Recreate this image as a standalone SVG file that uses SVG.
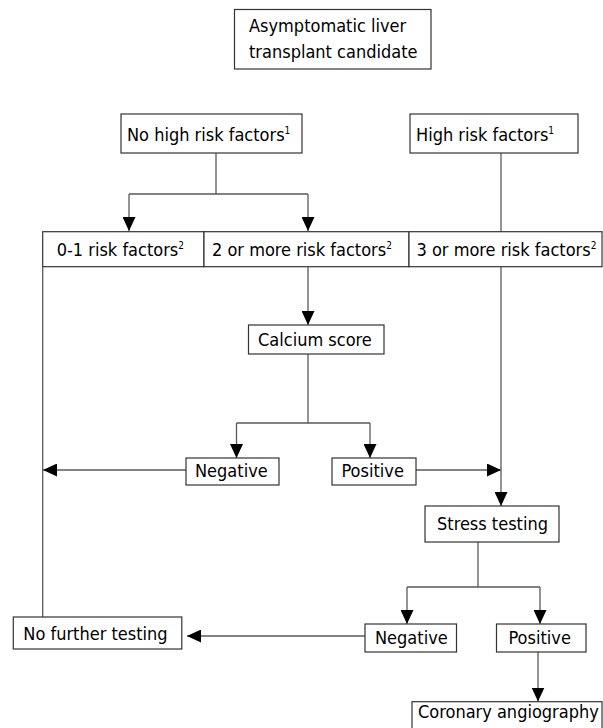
<svg xmlns="http://www.w3.org/2000/svg" width="603" height="728" viewBox="0 0 603 728">
<style>
  .box { fill: #ffffff; stroke: #333333; stroke-width: 1.2; }
  .t { font-family: "DejaVu Sans Condensed", "DejaVu Sans", sans-serif; font-stretch: condensed; font-size: 18px; fill: #000000; }
  .sup { font-size: 10px; }
  .c { fill: none; stroke: #5a5a5a; stroke-width: 1.3; }
  .a { fill: none; stroke: #5a5a5a; stroke-width: 1.3; marker-end: url(#arr); }
</style>
<defs>
  <marker id="arr" markerUnits="userSpaceOnUse" markerWidth="14" markerHeight="13" refX="14" refY="6.5" orient="auto">
    <path d="M0,0 L14,6.5 L0,13 Z" fill="#000000"/>
  </marker>
</defs>
<rect width="603" height="728" fill="#ffffff"/>

<g id="connectors">
  <path class="c" d="M216,153 V194 M129,194 H308"/>
  <path class="a" d="M129,194 V231"/>
  <path class="a" d="M308,194 V231"/>
  <path class="c" d="M501,153 V231.5"/>
  <path class="a" d="M308,267 V325"/>
  <path class="c" d="M308,354 V423 M236.5,423 H370"/>
  <path class="a" d="M236.5,423 V458"/>
  <path class="a" d="M370,423 V458"/>
  <path class="a" d="M186,470 H43"/>
  <path class="a" d="M416,470 H501"/>
  <path class="c" d="M42.7,267 V617"/>
  <path class="a" d="M501,267 V506"/>
  <path class="c" d="M478,542 V587 M407,587 H540"/>
  <path class="a" d="M407,587 V624"/>
  <path class="a" d="M540,587 V624"/>
  <path class="a" d="M365,636 H187"/>
  <path class="a" d="M538,652 V701.5"/>
</g>

<g id="candidate">
  <rect class="box" x="234.5" y="9.5" width="196.5" height="59.5"/>
  <text class="t" x="249" y="32">Asymptomatic liver</text>
  <text class="t" x="249" y="58">transplant candidate</text>
</g>
<g id="no-high-risk">
  <rect class="box" x="121" y="114" width="181" height="39"/>
  <text class="t" x="127" y="140.5">No high risk factors<tspan class="sup" dy="-7">1</tspan></text>
</g>
<g id="high-risk">
  <rect class="box" x="410" y="114" width="168" height="39"/>
  <text class="t" x="416" y="140.5">High risk factors<tspan class="sup" dy="-7">1</tspan></text>
</g>
<g id="zero-one">
  <rect class="box" x="42.7" y="231.7" width="161.3" height="35"/>
  <text class="t" x="56.7" y="255.5">0-1 risk factors<tspan class="sup" dy="-7">2</tspan></text>
</g>
<g id="two-more">
  <rect class="box" x="204" y="231.7" width="205" height="35"/>
  <text class="t" x="212" y="255.5">2 or more risk factors<tspan class="sup" dy="-7">2</tspan></text>
</g>
<g id="three-more">
  <rect class="box" x="409" y="231.7" width="193" height="35"/>
  <text class="t" x="416.5" y="255.5">3 or more risk factors<tspan class="sup" dy="-7">2</tspan></text>
</g>
<g id="calcium">
  <rect class="box" x="248.5" y="325" width="135.5" height="29"/>
  <text class="t" x="258" y="346">Calcium score</text>
</g>
<g id="calcium-negative">
  <rect class="box" x="186" y="458" width="93" height="27"/>
  <text class="t" x="195" y="476.5">Negative</text>
</g>
<g id="calcium-positive">
  <rect class="box" x="332" y="458" width="84" height="27"/>
  <text class="t" x="341.5" y="476.5">Positive</text>
</g>
<g id="stress">
  <rect class="box" x="425" y="506" width="134" height="36"/>
  <text class="t" x="437" y="530">Stress testing</text>
</g>
<g id="stress-negative">
  <rect class="box" x="365" y="624" width="91.5" height="28"/>
  <text class="t" x="375" y="644">Negative</text>
</g>
<g id="stress-positive">
  <rect class="box" x="496.5" y="624" width="89.5" height="28"/>
  <text class="t" x="508.5" y="644">Positive</text>
</g>
<g id="no-further">
  <rect class="box" x="13.3" y="617" width="168.5" height="32"/>
  <text class="t" x="23.3" y="640">No further testing</text>
</g>
<g id="angiography">
  <rect class="box" x="412" y="701.7" width="190" height="30"/>
  <text class="t" x="418" y="717.5">Coronary angiography</text>
</g>
</svg>
